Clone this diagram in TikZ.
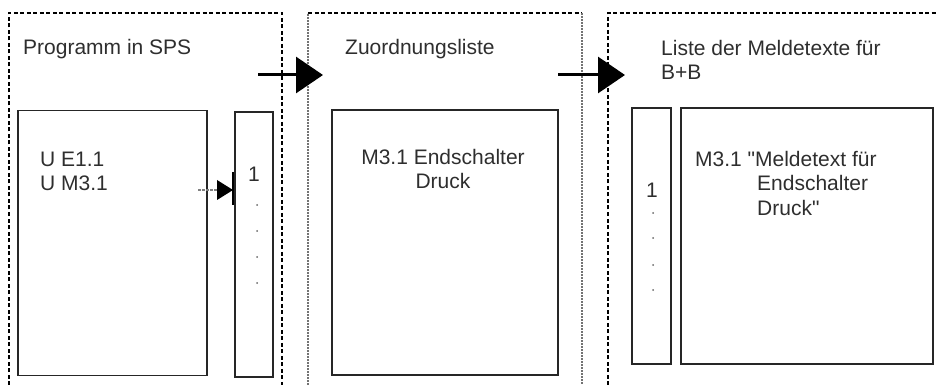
\documentclass[tikz,border=0pt]{standalone}
\usepackage{fontspec}
\setmainfont{Liberation Sans}
\usetikzlibrary{arrows.meta}
\definecolor{txt}{HTML}{2E2E2E}
\begin{document}
\begin{tikzpicture}[x=1pt,y=-1pt,
  panel/.style={draw=black,line width=1.1pt,dash pattern=on 4pt off 2.5pt},
  panelgray/.style={draw=black!55,line width=1.3pt,dash pattern=on 2pt off 1pt},
  box/.style={draw=black!85,line width=1.4pt,rectangle,inner sep=0pt},
  lbl/.style={text=txt,font=\fontsize{21}{24.5}\selectfont,inner sep=0pt,anchor=base west,align=left},
  lblc/.style={text=txt,font=\fontsize{21}{24.5}\selectfont,inner sep=0pt,anchor=base,align=center},
  dotm/.style={circle,fill=black!60,inner sep=0pt,minimum size=2pt},
  bigarrow/.style={line width=3pt,draw=black,-{Triangle[length=27pt,width=36pt]}},
]
\useasboundingbox (0,0) rectangle (938,385);
% panels
\draw[panel] (9,385) -- (9,13) -- (282,13) -- (282,385);
\draw[panel] (308,13) -- (582,13);
\draw[panelgray] (308,385) -- (308,13);
\draw[panelgray] (582,13) -- (582,385);
\draw[panel] (608,385) -- (608,13) -- (938,13);

% titles (anchor = baseline of last line)
\node[lbl] (t1) at (23,55) {Programm in SPS};
\node[lbl] (t2) at (345,55) {Zuordnungsliste};
\node[lbl] (t3) at (661,80) {Liste der Meldetexte für\\B+B};

% boxes
\node[box,minimum width=189pt,minimum height=265pt] (prog) at (112.5,243) {};
\node[box,minimum width=38pt,minimum height=265pt] (tab1) at (254,244.5) {};
\node[box,minimum width=226pt,minimum height=265pt] (zuord) at (445,242.5) {};
\node[box,minimum width=39pt,minimum height=256pt] (tab3) at (651.5,236) {};
\node[box,minimum width=252pt,minimum height=256pt] (melde) at (807,236) {};

% texts
\node[lbl] (pt) at (40,191) {U E1.1\\U M3.1};
\node[lblc] (zt) at (443,189) {M3.1 Endschalter\\Druck};
\node[lbl] (mt1) at (695,167) {M3.1 \textquotedbl Meldetext für};
\node[lbl] (mt2) at (757,215) {Endschalter\\Druck\textquotedbl};
\node[lblc] (one1) at (254,182) {1};
\node[lblc] (one3) at (652,197) {1};
\foreach \y [count=\i] in {205,231,257,283} \node[dotm] (da\i) at (257,\y) {};
\foreach \y [count=\i] in {213,238,265,290} \node[dotm] (db\i) at (653,\y) {};

% big arrows
\coordinate (a1s) at (258,75);
\coordinate (a1e) at (323,75);
\coordinate (a2s) at (558,75);
\coordinate (a2e) at (625,75);
\draw[bigarrow] (a1s) -- (a1e);
\draw[bigarrow] (a2s) -- (a2e);

% small dashed arrow
\coordinate (ss) at (198,190);
\coordinate (se) at (233,190);
\coordinate (bt) at (233,172);
\coordinate (bb) at (233,205);
\draw[black!50,line width=1.2pt,dash pattern=on 2.5pt off 1.5pt] (ss) -- (217,190);
\fill[black] (217,180) -- (se) -- (217,200) -- cycle;
\draw[black,line width=1.5pt] (bt) -- (bb);
\end{tikzpicture}
\end{document}
